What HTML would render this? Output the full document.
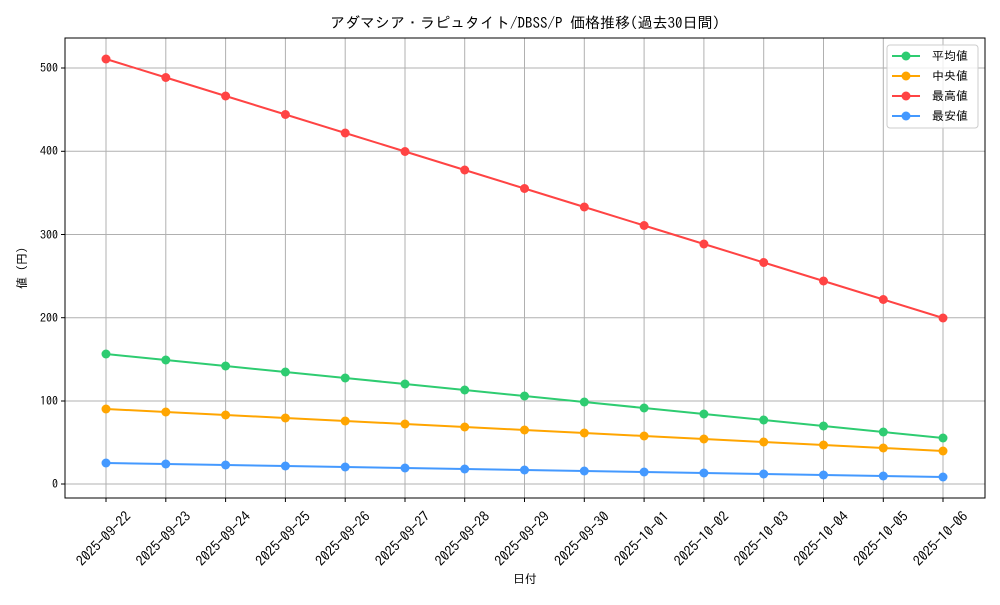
<!DOCTYPE html>
<html><head><meta charset="utf-8"><style>
body{margin:0;background:#fff}
svg text{font-family:"IPAGothic","Noto Sans CJK JP",monospace;fill:#000}
</style></head><body>
<svg width="1000" height="600" xmlns="http://www.w3.org/2000/svg">
<rect width="1000" height="600" fill="#fff"/>
<text x="525" y="28" font-size="15" text-anchor="middle">アダマシア・ラピュタイト/DBSS/P 価格推移(過去30日間)</text>
<g stroke="#b0b0b0" stroke-width="1">
<line x1="106" y1="38" x2="106" y2="498"/><line x1="165.8" y1="38" x2="165.8" y2="498"/><line x1="225.6" y1="38" x2="225.6" y2="498"/><line x1="285.4" y1="38" x2="285.4" y2="498"/><line x1="345.2" y1="38" x2="345.2" y2="498"/><line x1="405" y1="38" x2="405" y2="498"/><line x1="464.7" y1="38" x2="464.7" y2="498"/><line x1="524.5" y1="38" x2="524.5" y2="498"/><line x1="584.3" y1="38" x2="584.3" y2="498"/><line x1="644.1" y1="38" x2="644.1" y2="498"/><line x1="703.9" y1="38" x2="703.9" y2="498"/><line x1="763.7" y1="38" x2="763.7" y2="498"/><line x1="823.5" y1="38" x2="823.5" y2="498"/><line x1="883.3" y1="38" x2="883.3" y2="498"/><line x1="943" y1="38" x2="943" y2="498"/>
<line x1="65" y1="484" x2="985" y2="484"/><line x1="65" y1="401" x2="985" y2="401"/><line x1="65" y1="317.7" x2="985" y2="317.7"/><line x1="65" y1="234.5" x2="985" y2="234.5"/><line x1="65" y1="151.3" x2="985" y2="151.3"/><line x1="65" y1="68" x2="985" y2="68"/>
</g>
<rect x="65" y="38" width="920" height="460" fill="none" stroke="#000" stroke-width="1"/>
<g stroke="#000">
<line x1="61" y1="484" x2="65" y2="484"/><line x1="61" y1="401" x2="65" y2="401"/><line x1="61" y1="317.7" x2="65" y2="317.7"/><line x1="61" y1="234.5" x2="65" y2="234.5"/><line x1="61" y1="151.3" x2="65" y2="151.3"/><line x1="61" y1="68" x2="65" y2="68"/>
<line x1="106" y1="498" x2="106" y2="502"/><line x1="165.8" y1="498" x2="165.8" y2="502"/><line x1="225.6" y1="498" x2="225.6" y2="502"/><line x1="285.4" y1="498" x2="285.4" y2="502"/><line x1="345.2" y1="498" x2="345.2" y2="502"/><line x1="405" y1="498" x2="405" y2="502"/><line x1="464.7" y1="498" x2="464.7" y2="502"/><line x1="524.5" y1="498" x2="524.5" y2="502"/><line x1="584.3" y1="498" x2="584.3" y2="502"/><line x1="644.1" y1="498" x2="644.1" y2="502"/><line x1="703.9" y1="498" x2="703.9" y2="502"/><line x1="763.7" y1="498" x2="763.7" y2="502"/><line x1="823.5" y1="498" x2="823.5" y2="502"/><line x1="883.3" y1="498" x2="883.3" y2="502"/><line x1="943" y1="498" x2="943" y2="502"/>
</g>
<g font-size="12" text-anchor="end">
<text x="58" y="488">0</text><text x="58" y="405">100</text><text x="58" y="322">200</text><text x="58" y="239">300</text><text x="58" y="155">400</text><text x="58" y="72">500</text>
</g>
<g font-size="14" text-anchor="middle">
<text transform="translate(107,542) rotate(-45)">2025-09-22</text>
<text transform="translate(166.8,542) rotate(-45)">2025-09-23</text>
<text transform="translate(226.6,542) rotate(-45)">2025-09-24</text>
<text transform="translate(286.4,542) rotate(-45)">2025-09-25</text>
<text transform="translate(346.2,542) rotate(-45)">2025-09-26</text>
<text transform="translate(406,542) rotate(-45)">2025-09-27</text>
<text transform="translate(465.7,542) rotate(-45)">2025-09-28</text>
<text transform="translate(525.5,542) rotate(-45)">2025-09-29</text>
<text transform="translate(585.3,542) rotate(-45)">2025-09-30</text>
<text transform="translate(645.1,542) rotate(-45)">2025-10-01</text>
<text transform="translate(704.9,542) rotate(-45)">2025-10-02</text>
<text transform="translate(764.7,542) rotate(-45)">2025-10-03</text>
<text transform="translate(824.5,542) rotate(-45)">2025-10-04</text>
<text transform="translate(884.3,542) rotate(-45)">2025-10-05</text>
<text transform="translate(944,542) rotate(-45)">2025-10-06</text>
</g>
<text x="525" y="583" font-size="12" text-anchor="middle">日付</text>
<text transform="translate(26,268) rotate(-90)" font-size="12" text-anchor="middle">値 (円)</text>
<g fill="none" stroke-width="2">
<polyline stroke="#2ecc71" points="106,354 165.8,360 225.6,366 285.4,372 345.2,378 405,384 464.7,390 524.5,396 584.3,402 644.1,408 703.9,414 763.7,420 823.5,426 883.3,432 943,438"/>
<polyline stroke="#ffa500" points="106,409 165.8,412 225.6,415 285.4,418 345.2,421 405,424 464.7,427 524.5,430 584.3,433 644.1,436 703.9,439 763.7,442 823.5,445 883.3,448 943,451"/>
<polyline stroke="#ff4444" points="106,59 165.8,77.5 225.6,96 285.4,114.5 345.2,133 405,151.5 464.7,170 524.5,188.5 584.3,207 644.1,225.5 703.9,244 763.7,262.5 823.5,281 883.3,299.5 943,318"/>
<polyline stroke="#4499ff" points="106,463 165.8,464 225.6,465 285.4,466 345.2,467 405,468 464.7,469 524.5,470 584.3,471 644.1,472 703.9,473 763.7,474 823.5,475 883.3,476 943,477"/>
</g>
<g fill="#2ecc71"><circle cx="106" cy="354" r="4.5"/><circle cx="165.8" cy="360" r="4.5"/><circle cx="225.6" cy="366" r="4.5"/><circle cx="285.4" cy="372" r="4.5"/><circle cx="345.2" cy="378" r="4.5"/><circle cx="405" cy="384" r="4.5"/><circle cx="464.7" cy="390" r="4.5"/><circle cx="524.5" cy="396" r="4.5"/><circle cx="584.3" cy="402" r="4.5"/><circle cx="644.1" cy="408" r="4.5"/><circle cx="703.9" cy="414" r="4.5"/><circle cx="763.7" cy="420" r="4.5"/><circle cx="823.5" cy="426" r="4.5"/><circle cx="883.3" cy="432" r="4.5"/><circle cx="943" cy="438" r="4.5"/></g>
<g fill="#ffa500"><circle cx="106" cy="409" r="4.5"/><circle cx="165.8" cy="412" r="4.5"/><circle cx="225.6" cy="415" r="4.5"/><circle cx="285.4" cy="418" r="4.5"/><circle cx="345.2" cy="421" r="4.5"/><circle cx="405" cy="424" r="4.5"/><circle cx="464.7" cy="427" r="4.5"/><circle cx="524.5" cy="430" r="4.5"/><circle cx="584.3" cy="433" r="4.5"/><circle cx="644.1" cy="436" r="4.5"/><circle cx="703.9" cy="439" r="4.5"/><circle cx="763.7" cy="442" r="4.5"/><circle cx="823.5" cy="445" r="4.5"/><circle cx="883.3" cy="448" r="4.5"/><circle cx="943" cy="451" r="4.5"/></g>
<g fill="#ff4444"><circle cx="106" cy="59" r="4.5"/><circle cx="165.8" cy="77.5" r="4.5"/><circle cx="225.6" cy="96" r="4.5"/><circle cx="285.4" cy="114.5" r="4.5"/><circle cx="345.2" cy="133" r="4.5"/><circle cx="405" cy="151.5" r="4.5"/><circle cx="464.7" cy="170" r="4.5"/><circle cx="524.5" cy="188.5" r="4.5"/><circle cx="584.3" cy="207" r="4.5"/><circle cx="644.1" cy="225.5" r="4.5"/><circle cx="703.9" cy="244" r="4.5"/><circle cx="763.7" cy="262.5" r="4.5"/><circle cx="823.5" cy="281" r="4.5"/><circle cx="883.3" cy="299.5" r="4.5"/><circle cx="943" cy="318" r="4.5"/></g>
<g fill="#4499ff"><circle cx="106" cy="463" r="4.5"/><circle cx="165.8" cy="464" r="4.5"/><circle cx="225.6" cy="465" r="4.5"/><circle cx="285.4" cy="466" r="4.5"/><circle cx="345.2" cy="467" r="4.5"/><circle cx="405" cy="468" r="4.5"/><circle cx="464.7" cy="469" r="4.5"/><circle cx="524.5" cy="470" r="4.5"/><circle cx="584.3" cy="471" r="4.5"/><circle cx="644.1" cy="472" r="4.5"/><circle cx="703.9" cy="473" r="4.5"/><circle cx="763.7" cy="474" r="4.5"/><circle cx="823.5" cy="475" r="4.5"/><circle cx="883.3" cy="476" r="4.5"/><circle cx="943" cy="477" r="4.5"/></g>
<rect x="887" y="45" width="91" height="83" rx="3" fill="#fff" fill-opacity="0.8" stroke="#ccc"/>
<g stroke-width="2">
<line x1="892" y1="56" x2="920" y2="56" stroke="#2ecc71"/><circle cx="906" cy="56" r="4.5" fill="#2ecc71"/>
<line x1="892" y1="76" x2="920" y2="76" stroke="#ffa500"/><circle cx="906" cy="76" r="4.5" fill="#ffa500"/>
<line x1="892" y1="96" x2="920" y2="96" stroke="#ff4444"/><circle cx="906" cy="96" r="4.5" fill="#ff4444"/>
<line x1="892" y1="116" x2="920" y2="116" stroke="#4499ff"/><circle cx="906" cy="116" r="4.5" fill="#4499ff"/>
</g>
<g font-size="12">
<text x="932" y="60">平均値</text><text x="932" y="80"> 中央値</text><text x="932" y="100">最高値</text><text x="932" y="120">最安値</text>
</g>
</svg>
</body></html>
